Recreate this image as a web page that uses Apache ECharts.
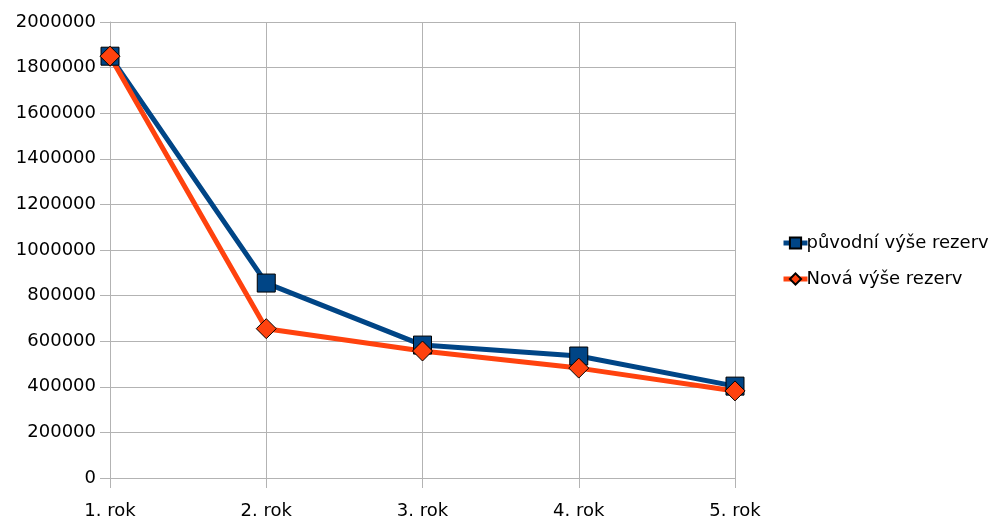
<!DOCTYPE html>
<html><head><meta charset="utf-8">
<script src="https://cdn.jsdelivr.net/npm/echarts@6/dist/echarts.min.js"></script>
<style>html,body{margin:0;padding:0;background:#fff}#c{width:1005px;height:521px}</style>
</head><body><div id="c"></div>
<script>
const categories = ['1. rok','2. rok','3. rok','4. rok','5. rok'];
const puvodni = [1850000, 855000, 583000, 535000, 403000];
const nova = [1850000, 655000, 557000, 482000, 382000];
const seriesNames = ['původní výše rezerv','Nová výše rezerv'];

const chart = echarts.init(document.getElementById('c'));
const gray = '#b3b3b3';
const font = 'DejaVu Sans';
chart.setOption({
  animation:false,
  textStyle:{fontFamily:font},
  grid:{left:110,right:270,top:22,bottom:43,containLabel:false},
  legend:{orient:'vertical',left:776,top:229,itemGap:18,itemWidth:24,itemHeight:14,
    lineStyle:{width:5},
    textStyle:{fontFamily:font,fontSize:18,color:'#000',padding:[0,0,0,-6]},
    data:seriesNames},
  xAxis:{type:'category',data:categories,boundaryGap:false,
    axisLine:{lineStyle:{color:gray,width:1}},
    axisTick:{show:true,length:10,lineStyle:{color:gray},alignWithLabel:true},
    splitLine:{show:true,lineStyle:{color:gray,width:1}},
    axisLabel:{color:'#000',fontSize:18,fontFamily:font,margin:24}},
  yAxis:{type:'value',min:0,max:2000000,interval:200000,
    axisLine:{show:true,lineStyle:{color:gray}},
    axisTick:{show:true,length:10,lineStyle:{color:gray}},
    splitLine:{lineStyle:{color:gray,width:1}},
    axisLabel:{color:'#000',fontSize:18,fontFamily:font,margin:14,formatter:v=>String(v)}},
  series:[
    {name:seriesNames[0],type:'line',data:puvodni,symbol:'rect',symbolSize:18,
     lineStyle:{color:'#004586',width:5},
     itemStyle:{color:'#004586',borderColor:'#000',borderWidth:1}},
    {name:seriesNames[1],type:'line',data:nova,symbol:'diamond',symbolSize:20,
     lineStyle:{color:'#ff420e',width:5},
     itemStyle:{color:'#ff420e',borderColor:'#000',borderWidth:1}}
  ]
});
</script></body></html>
